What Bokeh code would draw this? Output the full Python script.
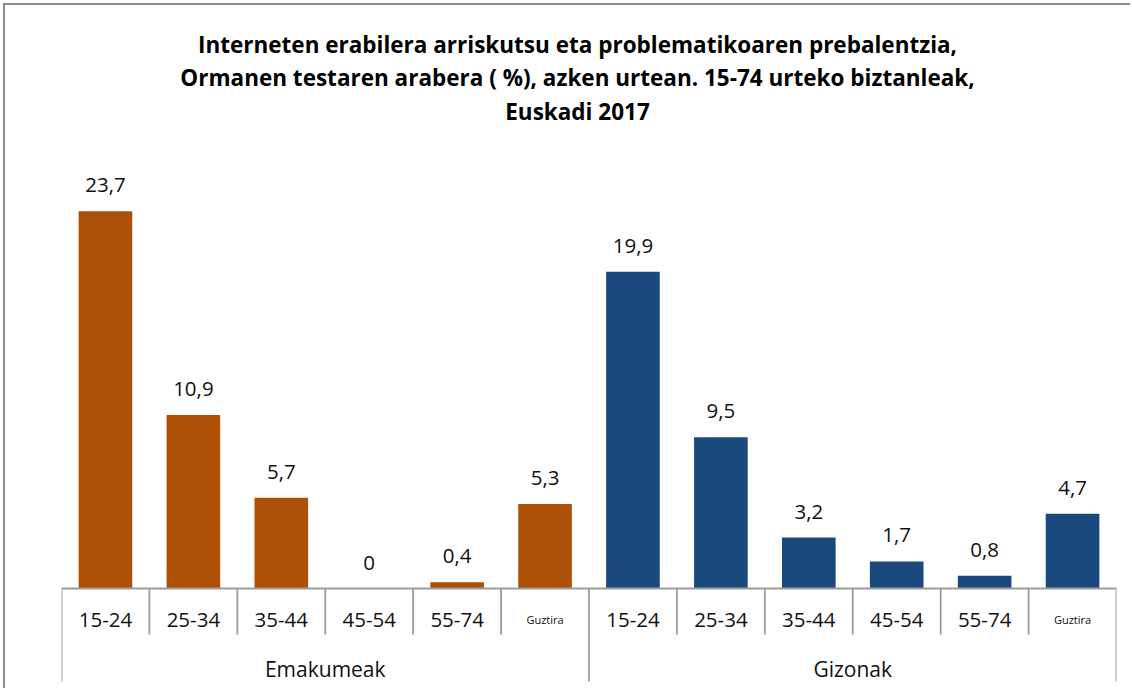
from bokeh.plotting import figure
from bokeh.models import FactorRange, Range1d, ColumnDataSource
from bokeh.core.properties import value
from bokeh.embed import file_html
from bokeh.resources import INLINE

# ---- data ----
groups = ["Emakumeak", "Gizonak"]
ages = ["15-24", "25-34", "35-44", "45-54", "55-74", "Guztira"]
women = [23.7, 10.9, 5.7, 0, 0.4, 5.3]
men = [19.9, 9.5, 3.2, 1.7, 0.8, 4.7]
title_lines = [
    "Interneten erabilera arriskutsu eta problematikoaren prebalentzia,",
    "Ormanen testaren arabera ( %), azken urtean. 15-74 urteko biztanleak,",
    "Euskadi 2017",
]
group_colors = {"Emakumeak": "#AD5108", "Gizonak": "#1A4A7D"}

FONT = "Open Sans"

# ---- layout (figure placed at page offset 5,5) ----
OFF = 5
W, H = 1132 - OFF, 690 - OFF
LEFT = 61 - OFF
FRAME_W = 1055
RIGHT = W - LEFT - FRAME_W
BASE = 588 - OFF      # px from figure top to the zero line
PX = 15.92            # px per percentage point


def ypx(img_y):
    """convert an image pixel row to data units"""
    return (588 - img_y) / PX


factors = [(g, a) for g in groups for a in ages]
vals = women + men
labels = ["0" if v == 0 else f"{v:.1f}".replace(".", ",") for v in vals]
cols = [group_colors[g] for g, _ in factors]
src = ColumnDataSource(dict(x=factors, top=vals, lab=labels, color=cols))

xr = FactorRange(*factors, factor_padding=0, group_padding=0, range_padding=0)
yr = Range1d(-(H - BASE) / PX, BASE / PX)

p = figure(x_range=xr, y_range=yr, width=W, height=H, output_backend="svg",
           toolbar_location=None, min_border_left=LEFT, min_border_right=RIGHT,
           min_border_top=0, min_border_bottom=0)
p.xaxis.visible = False
p.yaxis.visible = False
p.xgrid.visible = False
p.ygrid.visible = False
p.outline_line_color = None
p.background_fill_color = "white"
p.border_fill_color = "white"
p.styles = {"margin-left": f"{OFF}px", "margin-top": f"{OFF}px",
            "box-shadow": "-2px -2px 0 0 #8c8c8c"}

p.vbar(x="x", top="top", width=0.61, source=src, fill_color="color",
       line_color=None)

p.text(x="x", y="top", text="lab", source=src, y_offset=-26,
       text_align="center", text_baseline="middle",
       text_font=value(FONT), text_font_size="20.5px", text_color="#111111")

# axis line and separators
n = len(factors)
GRAY = "#9c9c9c"
p.segment(x0=[0], y0=[0], x1=[n], y1=[0], line_color=GRAY, line_width=2)
inner = [i for i in range(1, n) if i % len(ages) != 0]
outer = [i for i in range(0, n + 1) if i % len(ages) == 0]
p.segment(x0=inner, y0=[0] * len(inner), x1=inner, y1=[ypx(634)] * len(inner),
          line_color=GRAY, line_width=1.8)
p.segment(x0=outer, y0=[0] * len(outer), x1=outer, y1=[ypx(681)] * len(outer),
          line_color=GRAY, line_width=1.8)

# category labels
sub_sizes = ["11px" if a == "Guztira" else "20.5px" for _, a in factors]
sub_src = ColumnDataSource(dict(x=factors, t=[a for _, a in factors],
                                fs=sub_sizes, y=[ypx(619)] * n))
p.text(x="x", y="y", text="t", source=sub_src, text_align="center",
       text_baseline="middle", text_font=value(FONT), text_font_size="fs",
       text_color="#111111")
grp_x = [len(ages) * (i + 0.5) for i in range(len(groups))]
p.text(x=grp_x, y=[ypx(668)] * len(groups), text=groups, text_align="center",
       text_baseline="middle", text_font=value(FONT), text_font_size="21px",
       text_color="#111111")

# title
tx = (577 - 61) / (FRAME_W / n)
title_mid = [44, 77, 110.5]
p.text(x=[tx] * 3, y=[ypx(b) for b in title_mid], text=title_lines,
       text_align="center", text_baseline="middle", text_font=value(FONT),
       text_font_style="bold", text_font_size="22.5px", text_color="#000000")

open("out.html", "w").write(file_html(p, INLINE))
